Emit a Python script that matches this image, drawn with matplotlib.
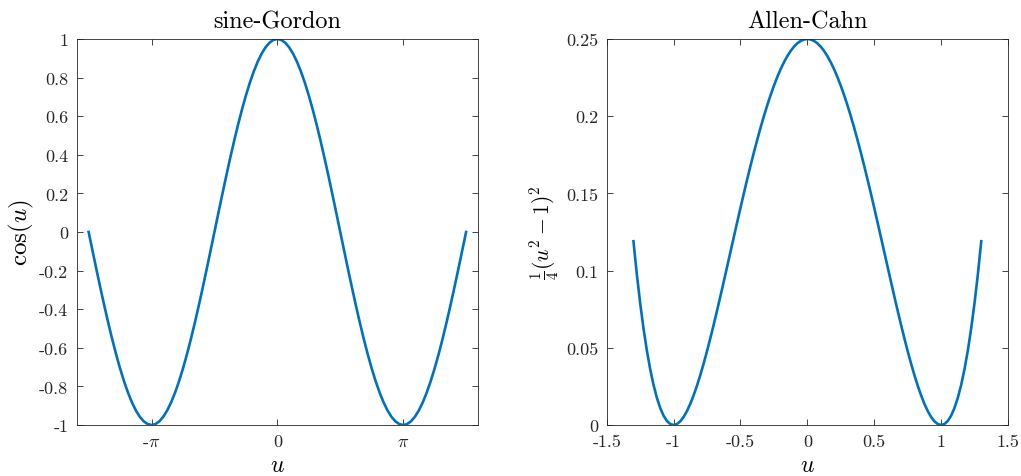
import numpy as np
import matplotlib as mpl
mpl.use('Agg')
import matplotlib.pyplot as plt

# %% Data
# sine-Gordon potential cos(u), quarter period from u=0 to u=pi/2, step pi/32
cos_q = [1.0, 0.99518, 0.98079, 0.95694, 0.92388, 0.88192, 0.83147, 0.77301,
         0.70711, 0.63439, 0.55557, 0.47140, 0.38268, 0.29028, 0.19509,
         0.09802, 0.0]
neg_q = [-c for c in cos_q]
# assembled over [-3pi/2, 3pi/2]
cos_sg = (neg_q[::-1] + neg_q[1:] + cos_q[::-1][1:] + cos_q[1:]
          + neg_q[::-1][1:] + neg_q[1:])
u_sg   = np.linspace(-1.5*np.pi, 1.5*np.pi, len(cos_sg))

# Allen-Cahn potential (u^2-1)^2/4, from u=1.3 down to u=0, step 0.025
half_ac = [0.119025, 0.097852, 0.079102, 0.062656, 0.0484, 0.036219,
           0.026002, 0.017639, 0.011025, 0.006055, 0.002627, 0.000641, 0.0,
           0.000609, 0.002377, 0.005211, 0.009025, 0.013733, 0.019252,
           0.0255, 0.0324, 0.039875, 0.047852, 0.056258, 0.065025, 0.074086,
           0.083377, 0.092834, 0.1024, 0.112016, 0.121627, 0.13118,
           0.140625, 0.149914, 0.159002, 0.167844, 0.1764, 0.184631,
           0.192502, 0.199977, 0.207025, 0.213617, 0.219727, 0.225328,
           0.2304, 0.234922, 0.238877, 0.242249, 0.245025, 0.247196,
           0.24875, 0.249688]
pot_ac  = half_ac + [0.25] + half_ac[::-1]
u_ac    = np.linspace(-1.3, 1.3, len(pot_ac))

sg_ticks  = [-np.pi, 0, np.pi]
sg_labels = [r'-$\pi$', '0', r'$\pi$']
sg_yticks = [1, 0.8, 0.6, 0.4, 0.2, 0, -0.2, -0.4, -0.6, -0.8, -1]
ac_xticks = [-1.5, -1, -0.5, 0, 0.5, 1, 1.5]
ac_yticks = [0, 0.05, 0.1, 0.15, 0.2, 0.25]

# %% Style
plt.rcParams['font.family'] = 'cmr10'
plt.rcParams['mathtext.fontset'] = 'cm'
plt.rcParams['axes.unicode_minus'] = False

blue  = '#0072BD'
axcol = '#262626'

fig = plt.figure(figsize=(10.21, 4.77), dpi=100)
ax1 = fig.add_axes([76.7/1021, 1-426/477, (478-76.7)/1021, (426-40)/477])
ax2 = fig.add_axes([606.7/1021, 1-426/477, (1008-606.7)/1021, (426-40)/477])

# %% sine-Gordon
ax1.plot(u_sg, cos_sg, color=blue, lw=1.9, solid_joinstyle='round')
ax1.set_xlim(-5.01, 5.01)
ax1.set_ylim(-1, 1)
ax1.set_xticks(sg_ticks)
ax1.set_xticklabels(sg_labels)
ax1.set_yticks(sg_yticks)
ax1.set_yticklabels(['%g' % v for v in sg_yticks])
ax1.set_title('sine-Gordon', fontsize=17.5, pad=8)
ax1.set_xlabel(r'$u$', fontsize=17, labelpad=4)
ax1.set_ylabel(r'$\cos(u)$', fontsize=18, labelpad=2)

# %% Allen-Cahn
ax2.plot(u_ac, pot_ac, color=blue, lw=1.9, solid_joinstyle='round')
ax2.set_xlim(-1.5, 1.5)
ax2.set_ylim(0, 0.25)
ax2.set_xticks(ac_xticks)
ax2.set_xticklabels(['%g' % v for v in ac_xticks])
ax2.set_yticks(ac_yticks)
ax2.set_yticklabels(['%g' % v for v in ac_yticks])
ax2.set_title('Allen-Cahn', fontsize=17.5, pad=8)
ax2.set_xlabel(r'$u$', fontsize=17, labelpad=4)
ax2.set_ylabel(r'$\frac{1}{4}(u^2-1)^2$', fontsize=15.5, labelpad=4)

for ax in (ax1, ax2):
    ax.tick_params(direction='in', top=True, right=True, length=4,
                   width=0.6, colors=axcol, labelsize=13, pad=6)
    for sp in ax.spines.values():
        sp.set_color(axcol)
        sp.set_linewidth(0.6)

fig.savefig('out.png', dpi=100)
